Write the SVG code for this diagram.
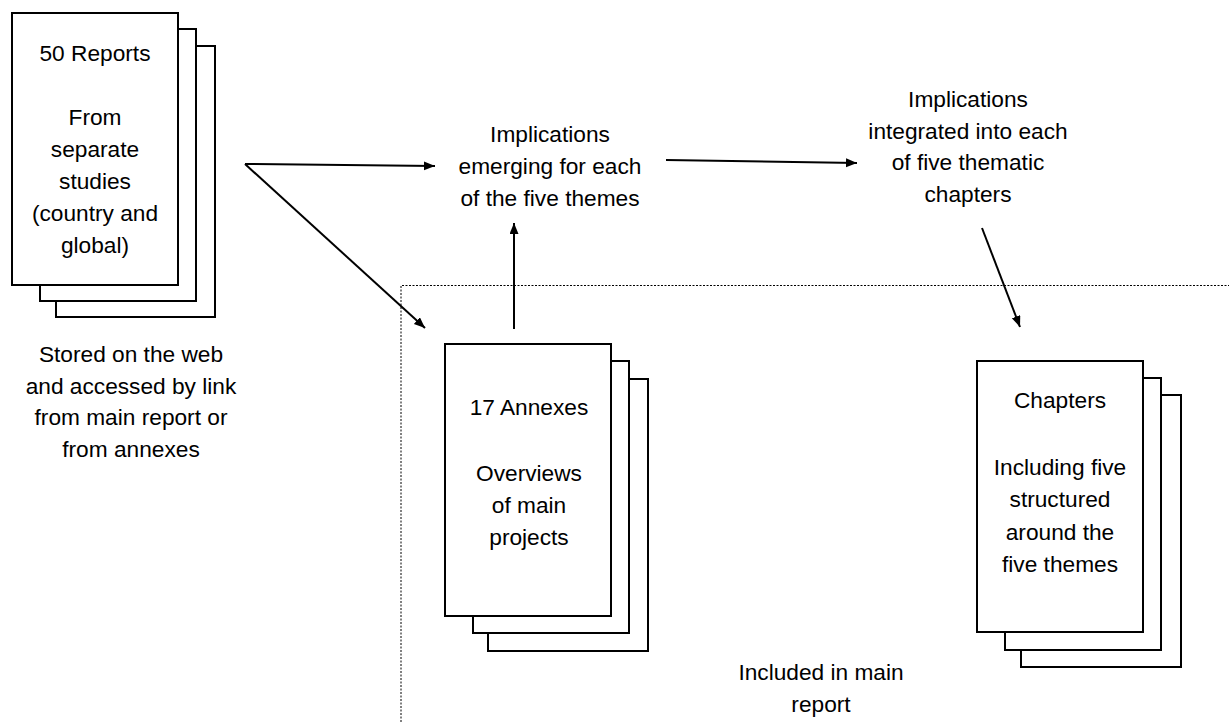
<svg xmlns="http://www.w3.org/2000/svg" width="1229" height="722" viewBox="0 0 1229 722">
<style>
.pg{fill:#fff;stroke:#000;stroke-width:2}
.t{font-family:"Liberation Sans",Arial,sans-serif;font-size:22.7px;fill:#000;text-anchor:middle}
.c{stroke:#000;stroke-width:2;fill:none;marker-end:url(#ah)}
.dot{stroke:#000;stroke-width:1;fill:none;stroke-dasharray:2 1.5}
</style>
<defs>
<marker id="ah" markerUnits="userSpaceOnUse" markerWidth="12" markerHeight="10" refX="11" refY="4.5" orient="auto">
<path d="M0,0 L11,4.5 L0,9 z" fill="#000"/>
</marker>
</defs>
<rect width="1229" height="722" fill="#fff"/>
<g id="included-region">
<path class="dot" d="M401,722 L401,285.5 L1229,285.5"/>
<text class="t" x="821" y="680">Included in main</text>
<text class="t" x="821" y="712">report</text>
</g>
<g id="reports">
<rect class="pg" x="56" y="46" width="159" height="271"/>
<rect class="pg" x="40" y="29" width="156" height="272"/>
<rect class="pg" x="12" y="13" width="166" height="272"/>
<text class="t" x="95" y="61">50 Reports</text>
<text class="t" x="95" y="125">From</text>
<text class="t" x="95" y="157">separate</text>
<text class="t" x="95" y="189">studies</text>
<text class="t" x="95" y="221">(country and</text>
<text class="t" x="95" y="253">global)</text>
</g>
<g id="stored-note">
<text class="t" x="131" y="362">Stored on the web</text>
<text class="t" x="131" y="394">and accessed by link</text>
<text class="t" x="131" y="425">from main report or</text>
<text class="t" x="131" y="457">from annexes</text>
</g>
<g id="implications-emerging">
<text class="t" x="550" y="142">Implications</text>
<text class="t" x="550" y="174">emerging for each</text>
<text class="t" x="550" y="206">of the five themes</text>
</g>
<g id="implications-integrated">
<text class="t" x="968" y="107">Implications</text>
<text class="t" x="968" y="139">integrated into each</text>
<text class="t" x="968" y="170">of five thematic</text>
<text class="t" x="968" y="202">chapters</text>
</g>
<g id="annexes">
<rect class="pg" x="488" y="379" width="160" height="272"/>
<rect class="pg" x="473" y="361" width="156" height="272"/>
<rect class="pg" x="445" y="344" width="166" height="272"/>
<text class="t" x="529" y="415">17 Annexes</text>
<text class="t" x="529" y="481">Overviews</text>
<text class="t" x="529" y="513">of main</text>
<text class="t" x="529" y="545">projects</text>
</g>
<g id="chapters">
<rect class="pg" x="1021" y="395" width="160" height="272"/>
<rect class="pg" x="1005" y="378" width="156" height="272"/>
<rect class="pg" x="977" y="361" width="166" height="271"/>
<text class="t" x="1060" y="408">Chapters</text>
<text class="t" x="1060" y="475">Including five</text>
<text class="t" x="1060" y="507">structured</text>
<text class="t" x="1060" y="540">around the</text>
<text class="t" x="1060" y="572">five themes</text>
</g>
<g id="connectors">
<line class="c" x1="245" y1="164" x2="435" y2="166"/>
<line class="c" x1="245" y1="164" x2="425" y2="328"/>
<line class="c" x1="514" y1="329" x2="514" y2="223"/>
<line class="c" x1="666" y1="160" x2="857" y2="163"/>
<line class="c" x1="982" y1="228" x2="1020" y2="327"/>
</g>
</svg>
